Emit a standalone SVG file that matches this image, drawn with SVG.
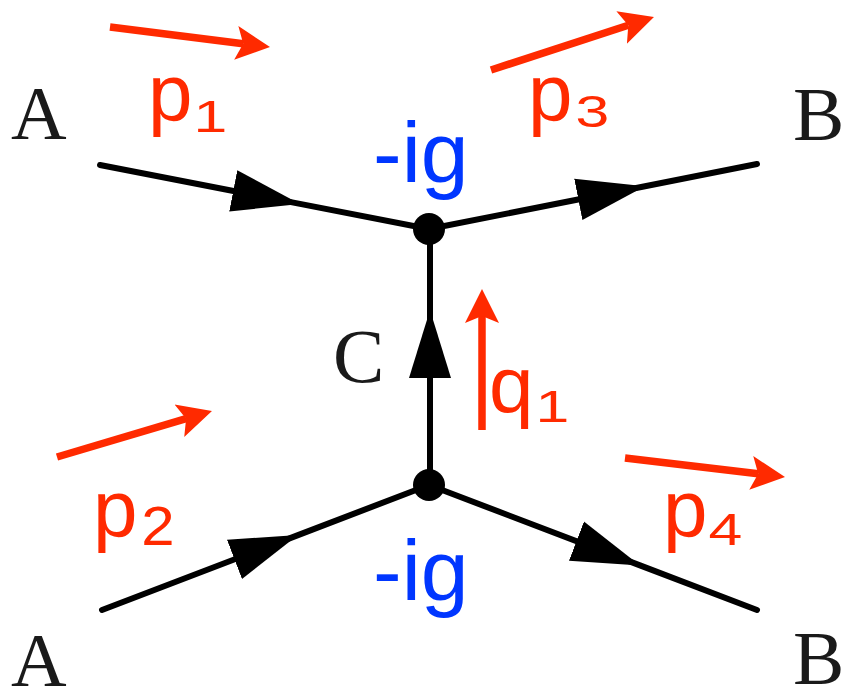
<svg xmlns="http://www.w3.org/2000/svg" width="846" height="690" viewBox="0 0 846 690">
<style>
.line{fill:none;stroke:#000;stroke-width:6;stroke-linecap:round;marker-mid:url(#tri)}
.mom{fill:none;stroke:#ff2a00;stroke-width:7.5;stroke-linecap:butt;marker-end:url(#red)}
.serif{font-family:"Liberation Serif","Times New Roman",serif;font-size:77px;fill:#1a1a1a}
.sans{font-family:"Liberation Sans",Arial,sans-serif}
.p{font-size:80px;fill:#ff2a00}
.sub{font-size:44px;fill:#ff2a00}
.cpl{font-size:86px;fill:#0036ff}
.vtx{fill:#000}
</style>
<defs>
<marker id="tri" markerUnits="userSpaceOnUse" markerWidth="72" markerHeight="46" viewBox="0 -23 72 46" refX="68" refY="0" orient="auto">
<path d="M0,-21 L68,0 L0,21 Z" fill="#000"/>
</marker>
<marker id="red" markerUnits="userSpaceOnUse" markerWidth="36" markerHeight="36" viewBox="0 -18 36 36" refX="7" refY="0" orient="auto">
<path d="M0,-17 L34,0 L0,17 L7,0 Z" fill="#ff2a00"/>
</marker>
</defs>
<g id="connectors">
<path class="line" d="M100,165 L300,203.9 L429,229"/>
<path class="line" d="M429,229 L645,186.2 L757,164"/>
<path class="line" d="M430,485 L430,310 L430,229"/>
<path class="line" d="M102,610 L298,535.1 L429,485"/>
<path class="line" d="M429,485 L640,565.4 L757,610"/>
</g>
<g id="momenta">
<path class="mom" d="M110,27 L243.2,43.7"/>
<path class="mom" d="M491,70 L628.3,25.3"/>
<path class="mom" d="M57,457 L186.1,418.7"/>
<path class="mom" d="M625,458 L758.2,473.8"/>
<path class="mom" d="M482,430 L482,316"/>
</g>
<g id="vertex-top"><circle class="vtx" cx="429" cy="229" r="16"/><text class="sans cpl" x="373" y="182">-ig</text></g>
<g id="vertex-bottom"><circle class="vtx" cx="429" cy="485" r="16"/><text class="sans cpl" x="373" y="600">-ig</text></g>
<g id="A-top"><text class="serif" x="11" y="139">A</text></g>
<g id="A-bottom"><text class="serif" x="11" y="686">A</text></g>
<g id="B-top"><text class="serif" x="793" y="140">B</text></g>
<g id="B-bottom"><text class="serif" x="793" y="684">B</text></g>
<g id="C"><text class="serif" x="333" y="382">C</text></g>
<g id="label-p1"><text class="sans p" x="148" y="120">p</text><text class="sans sub" transform="translate(193.4,132) scale(1.38,1)">1</text></g>
<g id="label-p3"><text class="sans p" x="528" y="120">p</text><text class="sans sub" transform="translate(575.4,127) scale(1.38,1)">3</text></g>
<g id="label-p2"><text class="sans p" x="93" y="536">p</text><text class="sans sub" style="font-size:56px" transform="translate(141.3,545) scale(1.07,1)">2</text></g>
<g id="label-p4"><text class="sans p" x="663" y="536">p</text><text class="sans sub" transform="translate(708.4,545) scale(1.38,1)">4</text></g>
<g id="label-q1"><text class="sans p" x="489" y="412">q</text><text class="sans sub" transform="translate(535.4,422) scale(1.38,1)">1</text></g>
</svg>
